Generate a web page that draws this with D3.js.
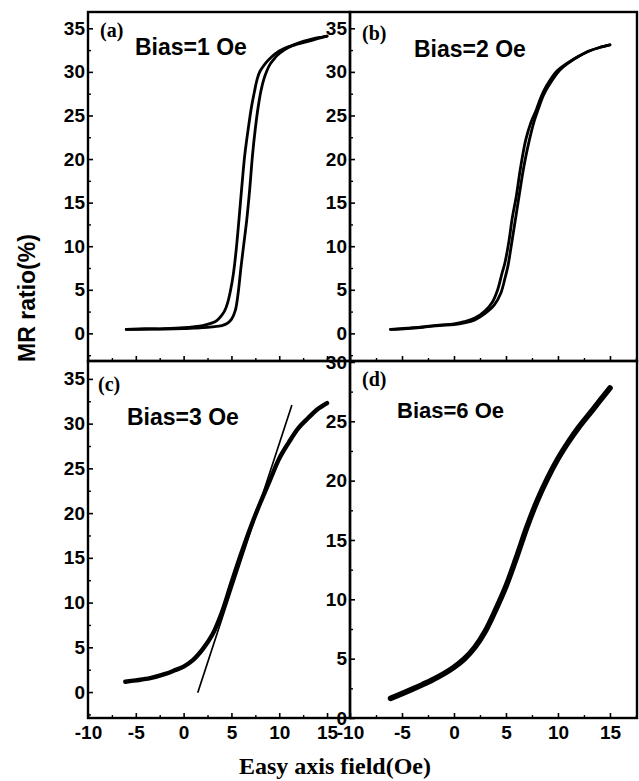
<!DOCTYPE html>
<html>
<head>
<meta charset="utf-8">
<script src="https://cdn.jsdelivr.net/npm/d3@7"></script>
<style>
  html, body { margin: 0; padding: 0; background: #fff; }
  svg { display: block; }
</style>
</head>
<body>
<svg id="chart" width="639" height="781"></svg>
<script>
// ---------------- data ----------------
const xTickValues = [-10, -5, 0, 5, 10, 15];
const yTickValuesABC = [0, 5, 10, 15, 20, 25, 30, 35];
const yTickValuesD = [0, 5, 10, 15, 20, 25, 30];
const panelLetters = ["(a)", "(b)", "(c)", "(d)"];
const biasLabels = ["Bias=1 Oe", "Bias=2 Oe", "Bias=3 Oe", "Bias=6 Oe"];
const yAxisTitle = "MR ratio(%)";
const xAxisTitle = "Easy axis field(Oe)";

// (a) Bias = 1 Oe : increasing-field branch and decreasing-field branch
const aUpX = [-6, -4, -2, 0, 1, 2, 3, 4, 4.5, 5, 5.4, 5.7, 6.0, 6.3, 6.6, 6.9, 7.2, 7.5, 7.8, 8.1, 8.4, 8.7, 9.0, 9.4, 9.8, 10.5, 11.5, 12.5, 13.5, 14.5, 15];
const aUpY = [0.45, 0.5, 0.5, 0.55, 0.6, 0.65, 0.75, 0.9, 1.1, 1.6, 2.6, 4.6, 7.6, 10.3, 13, 16.4, 20.4, 23.5, 26.0, 27.9, 29.2, 30.1, 30.8, 31.4, 31.9, 32.5, 33.1, 33.5, 33.8, 34.0, 34.1];
const aDnX = [15, 14, 13, 12, 11, 10, 9.5, 9, 8.5, 8, 7.7, 7.4, 7.1, 6.8, 6.4, 6.1, 5.8, 5.5, 5.2, 4.9, 4.6, 4.3, 4.0, 3.5, 3, 2, 1, 0, -2, -4, -6];
const aDnY = [34.1, 33.8, 33.5, 33.2, 32.9, 32.4, 32.0, 31.5, 30.9, 30.1, 29.2, 27.7, 26.0, 23.8, 20.5, 17.0, 13.2, 9.6, 6.8, 4.9, 3.5, 2.6, 2.1, 1.5, 1.2, 0.9, 0.75, 0.65, 0.55, 0.5, 0.45];

// (b) Bias = 2 Oe
const bUpX = [-6.1, -4.5, -3, -1.4, 0, 1, 2, 3, 3.9, 4.5, 4.9, 5.2, 5.5, 5.9, 6.2, 6.7, 7.1, 7.7, 8.1, 8.6, 9.1, 10.1, 11.1, 12, 13, 14, 15];
const bUpY = [0.45, 0.55, 0.7, 0.9, 1.0, 1.2, 1.55, 2.3, 3.3, 4.6, 6.3, 7.8, 10.0, 13.0, 15.3, 19.0, 21.4, 24.3, 25.7, 27.3, 28.4, 30.1, 31.1, 31.8, 32.4, 32.8, 33.1];
const bDnX = [15, 14, 13, 12, 11, 9.9, 8.9, 8.4, 7.9, 7.4, 6.9, 6.4, 6.0, 5.6, 5.3, 4.9, 4.6, 4.2, 3.7, 3.0, 2.0, 1.0, 0, -1.4, -3, -4.5, -6.1];
const bDnY = [33.1, 32.8, 32.4, 31.8, 31.1, 30.1, 28.4, 27.2, 25.6, 24.2, 22.2, 19.0, 15.8, 13.2, 10.7, 8.1, 6.8, 5.0, 3.6, 2.6, 1.75, 1.35, 1.1, 0.95, 0.75, 0.6, 0.45];

// (c) Bias = 3 Oe, plus tangent line
const cX = [-6.1, -5, -3.5, -2, -1, 0, 1, 2, 3, 4, 5, 6, 7, 8, 9, 10, 11, 12, 13, 14, 15];
const cY = [1.15, 1.3, 1.55, 2.0, 2.4, 2.85, 3.6, 4.8, 6.4, 8.9, 12.2, 15.4, 18.4, 21.1, 23.6, 26.1, 27.9, 29.5, 30.6, 31.6, 32.3];
const cTangentX = [1.5, 11.3];
const cTangentY = [0, 32];

// (d) Bias = 6 Oe
const dX = [-6.1, -5, -4, -3, -2, -1, 0, 1, 2, 3, 4, 5, 6, 7, 8, 9, 10, 11, 12, 13, 14, 15];
const dY = [1.65, 2.05, 2.43, 2.83, 3.25, 3.72, 4.28, 4.98, 5.95, 7.3, 9.1, 11.1, 13.5, 16.05, 18.3, 20.2, 21.85, 23.25, 24.5, 25.6, 26.7, 27.8];

// ---------------- helpers ----------------
const zip = (xs, ys) => xs.map((x, i) => [x, ys[i]]);
const minorOf = (ticks) => ticks.slice(0, -1).map(t => t + (ticks[1] - ticks[0]) / 2);

const svg = d3.select("#chart");
const SANS = "'Liberation Sans', Arial, Helvetica, sans-serif";
const SERIF = "'Liberation Serif', 'Times New Roman', serif";

const panels = [
  { left: 88,  right: 350, top: 12,  bottom: 361, xDom: [-10, 17.4], yDom: [-3.17, 36.87], yTicks: yTickValuesABC, yMinorExtra: [-2.5], xLabels: false,
    series: [ {d: zip(aUpX, aUpY), w: 2.8}, {d: zip(aDnX, aDnY), w: 2.8} ],
    letter: panelLetters[0], letterPos: [100, 37], bias: biasLabels[0], biasPos: [135, 55], biasSize: 23 },
  { left: 350, right: 637, top: 12,  bottom: 361, xDom: [-10, 17.6], yDom: [-3.17, 36.87], yTicks: yTickValuesABC, yMinorExtra: [-2.5], xLabels: false,
    series: [ {d: zip(bUpX, bUpY), w: 2.8}, {d: zip(bDnX, bDnY), w: 2.8} ],
    letter: panelLetters[1], letterPos: [362, 40], bias: biasLabels[1], biasPos: [414, 57], biasSize: 23 },
  { left: 88,  right: 350, top: 361, bottom: 718, xDom: [-10, 17.4], yDom: [-2.9, 37.0], yTicks: yTickValuesABC, yMinorExtra: [-2.5], xLabels: true,
    series: [ {d: zip(cX, cY), w: 4.4}, {d: zip(cTangentX, cTangentY), w: 1.7, straight: true} ],
    letter: panelLetters[2], letterPos: [98, 391], bias: biasLabels[2], biasPos: [127, 425], biasSize: 23 },
  { left: 350, right: 637, top: 361, bottom: 718, xDom: [-10, 17.6], yDom: [0, 30.08], yTicks: yTickValuesD, yMinorExtra: [], xLabels: true,
    series: [ {d: zip(dX, dY), w: 5.6} ],
    letter: panelLetters[3], letterPos: [362, 386], bias: biasLabels[3], biasPos: [397, 418], biasSize: 22 }
];

panels.forEach(p => {
  const x = d3.scaleLinear().domain(p.xDom).range([p.left, p.right]);
  const y = d3.scaleLinear().domain(p.yDom).range([p.bottom, p.top]);
  const g = svg.append("g");

  // curves
  p.series.forEach(s => {
    const line = d3.line().x(d => x(d[0])).y(d => y(d[1]))
      .curve(s.straight ? d3.curveLinear : d3.curveCatmullRom.alpha(0.5));
    g.append("path").datum(s.d).attr("d", line)
      .attr("fill", "none").attr("stroke", "#000")
      .attr("stroke-width", s.w).attr("stroke-linecap", "round").attr("stroke-linejoin", "round");
  });

  // left axis (major, inward)
  const yAxis = d3.axisLeft(y).tickValues(p.yTicks).tickSize(-5).tickPadding(3).tickFormat(d => String(d));
  const ya = g.append("g").attr("transform", `translate(${p.left},0)`).call(yAxis);
  ya.select(".domain").remove();
  ya.selectAll("line").attr("stroke", "#000").attr("stroke-width", 1.6);
  ya.selectAll("text").attr("font-family", SANS).attr("font-weight", "bold").attr("font-size", 19).attr("fill", "#000");

  const yMinor = d3.axisLeft(y).tickValues(minorOf(p.yTicks).concat(p.yMinorExtra)).tickSize(-3).tickFormat("");
  const ym = g.append("g").attr("transform", `translate(${p.left},0)`).call(yMinor);
  ym.select(".domain").remove();
  ym.selectAll("line").attr("stroke", "#000").attr("stroke-width", 1.4);

  // bottom axis (inward)
  const xAxis = d3.axisBottom(x).tickValues(xTickValues).tickSize(-5).tickPadding(8)
    .tickFormat(p.xLabels ? (d => String(d)) : "");
  const xa = g.append("g").attr("transform", `translate(0,${p.bottom})`).call(xAxis);
  xa.select(".domain").remove();
  xa.selectAll("line").attr("stroke", "#000").attr("stroke-width", 1.6);
  xa.selectAll("text").attr("font-family", SANS).attr("font-weight", "bold").attr("font-size", 19).attr("fill", "#000");

  const xMinor = d3.axisBottom(x).tickValues(minorOf(xTickValues).concat([17.5]).filter(v => v < p.xDom[1])).tickSize(-3).tickFormat("");
  const xm = g.append("g").attr("transform", `translate(0,${p.bottom})`).call(xMinor);
  xm.select(".domain").remove();
  xm.selectAll("line").attr("stroke", "#000").attr("stroke-width", 1.4);

  // frame
  g.append("rect").attr("x", p.left).attr("y", p.top)
    .attr("width", p.right - p.left).attr("height", p.bottom - p.top)
    .attr("fill", "none").attr("stroke", "#000").attr("stroke-width", 2.4);

  // labels
  g.append("text").attr("x", p.letterPos[0]).attr("y", p.letterPos[1])
    .attr("font-family", SERIF).attr("font-weight", "bold").attr("font-size", 20).text(p.letter);
  g.append("text").attr("x", p.biasPos[0]).attr("y", p.biasPos[1])
    .attr("font-family", SANS).attr("font-weight", "bold").attr("font-size", p.biasSize).text(p.bias);
});

// axis titles
svg.append("text").attr("transform", "translate(35,298) rotate(-90)")
  .attr("text-anchor", "middle").attr("font-family", SANS).attr("font-weight", "bold")
  .attr("font-size", 23).text(yAxisTitle);
svg.append("text").attr("x", 335).attr("y", 774)
  .attr("text-anchor", "middle").attr("font-family", SERIF).attr("font-weight", "bold")
  .attr("font-size", 24).text(xAxisTitle);
</script>
</body>
</html>
